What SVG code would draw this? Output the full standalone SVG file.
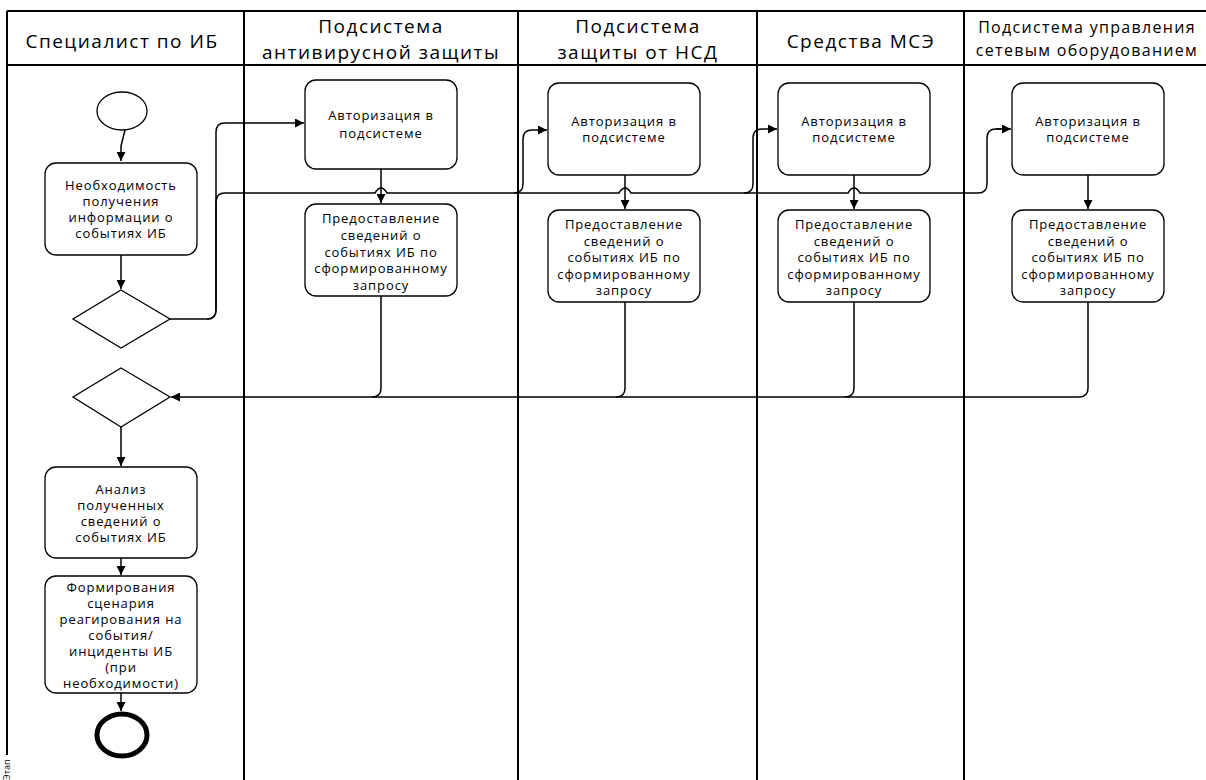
<svg xmlns="http://www.w3.org/2000/svg" width="1206" height="780" viewBox="0 0 1206 780">
  <defs>
    <marker id="arr" viewBox="0 0 10 10" refX="10" refY="5" markerWidth="10" markerHeight="9" markerUnits="userSpaceOnUse" orient="auto">
      <path d="M0,0 L10,5 L0,10 z" fill="#000"/>
    </marker>
  </defs>
  <style>
    .lane { stroke: #000; stroke-width: 2; fill: none; }
    .hdr { font-family: "Open Sans", "Liberation Sans", sans-serif; font-size: 19px; letter-spacing: 1.5px; fill: #000; text-anchor: middle; }
    .hdr-s { font-size: 16px; letter-spacing: 1.3px; }
    .box { fill: #fff; stroke: #000; stroke-width: 1.3; }
    .txt { font-family: "Open Sans", "Liberation Sans", sans-serif; font-size: 13px; letter-spacing: 0.9px; fill: #000; text-anchor: middle; }
    .con { fill: none; stroke: #000; stroke-width: 1.5; }
    .end { marker-end: url(#arr); }
  </style>
  <rect width="1206" height="780" fill="#fff"/>

  <!-- pool frame and swimlanes -->
  <g id="lanes">
    <line class="lane" x1="7" y1="11" x2="1206" y2="11"/>
    <line class="lane" x1="7" y1="65" x2="1206" y2="65"/>
    <line class="lane" x1="7" y1="11" x2="7" y2="755"/>
    <line class="lane" x1="244" y1="11" x2="244" y2="780"/>
    <line class="lane" x1="518" y1="11" x2="518" y2="780"/>
    <line class="lane" x1="757" y1="11" x2="757" y2="780"/>
    <line class="lane" x1="964" y1="11" x2="964" y2="780"/>
    <text class="hdr" x="122" y="48">Специалист по ИБ</text>
    <text class="hdr" x="381" y="33">Подсистема</text>
    <text class="hdr" x="381" y="59">антивирусной защиты</text>
    <text class="hdr" x="638" y="33">Подсистема</text>
    <text class="hdr" x="638" y="59">защиты от НСД</text>
    <text class="hdr" x="861" y="48">Средства МСЭ</text>
    <text class="hdr hdr-s" x="1087" y="33">Подсистема управления</text>
    <text class="hdr hdr-s" x="1087" y="56">сетевым оборудованием</text>
    <text font-family="Open Sans, sans-serif" font-size="9" transform="translate(10,780) rotate(-90)">Этап</text>
  </g>

  <!-- connectors -->
  <g id="connectors">
    <path class="con end" d="M125,130 L121,146 L121,161"/>
    <path class="con end" d="M121,255 V289"/>
    <path class="con end" d="M170,319 H207 Q216,319 216,310 V132 Q216,123 225,123 H304"/>
    <path class="con" d="M207,319 Q216,319 216,310 V202 Q216,193 225,193 H375 Q381,183 387,193 H619 Q625,183 631,193 H848 Q854,183 860,193 H978 Q987,193 987,184 V138 Q987,129 996,129 H1001"/>
    <path class="con end" d="M996,129 H1011"/>
    <path class="con end" d="M514,193 Q523,193 523,184 V139 Q523,130 532,130 H547"/>
    <path class="con end" d="M744,193 Q753,193 753,184 V138 Q753,129 762,129 H777"/>
    <path class="con end" d="M381,169 V203"/>
    <path class="con end" d="M625,175 V209"/>
    <path class="con end" d="M854,175 V209"/>
    <path class="con end" d="M1088,175 V209"/>
    <path class="con end" d="M1088,302 V388 Q1088,397 1079,397 H171"/>
    <path class="con" d="M854,302 V388 Q854,397 845,397"/>
    <path class="con" d="M625,302 V388 Q625,397 616,397"/>
    <path class="con" d="M381,296 V388 Q381,397 372,397"/>
    <path class="con end" d="M121,427 V466"/>
    <path class="con end" d="M121,558 V575"/>
    <path class="con end" d="M121,693 V711"/>
  </g>

  <!-- Специалист по ИБ -->
  <g id="start"><ellipse cx="122" cy="111" rx="25" ry="19" class="box"/></g>
  <g id="need-info">
    <rect class="box" x="45" y="163" width="152" height="92" rx="11"/>
    <text class="txt" x="121" y="190">Необходимость</text>
    <text class="txt" x="121" y="206">получения</text>
    <text class="txt" x="121" y="222">информации о</text>
    <text class="txt" x="121" y="238">событиях ИБ</text>
  </g>
  <g id="split"><polygon class="box" points="121,290 170,319 121,348 73,319"/></g>
  <g id="merge"><polygon class="box" points="121,368 170,397 121,427 73,397"/></g>
  <g id="analysis">
    <rect class="box" x="45" y="467" width="152" height="91" rx="11"/>
    <text class="txt" x="121" y="494">Анализ</text>
    <text class="txt" x="121" y="510">полученных</text>
    <text class="txt" x="121" y="526">сведений о</text>
    <text class="txt" x="121" y="542">событиях ИБ</text>
  </g>
  <g id="scenario">
    <rect class="box" x="45" y="576" width="152" height="117" rx="11"/>
    <text class="txt" x="121" y="592">Формирования</text>
    <text class="txt" x="121" y="608">сценария</text>
    <text class="txt" x="121" y="624">реагирования на</text>
    <text class="txt" x="121" y="640">события/</text>
    <text class="txt" x="121" y="656">инциденты ИБ</text>
    <text class="txt" x="121" y="672">(при</text>
    <text class="txt" x="121" y="688">необходимости)</text>
  </g>
  <g id="finish"><ellipse cx="122" cy="735" rx="25" ry="21" fill="#fff" stroke="#000" stroke-width="5"/></g>

  <!-- Подсистема антивирусной защиты -->
  <g id="av-auth">
    <rect class="box" x="305" y="80" width="152" height="89" rx="11"/>
    <text class="txt" x="381" y="120">Авторизация в</text>
    <text class="txt" x="381" y="138">подсистеме</text>
  </g>
  <g id="av-report">
    <rect class="box" x="305" y="204" width="152" height="92" rx="11"/>
    <text class="txt" x="381" y="223">Предоставление</text>
    <text class="txt" x="381" y="240">сведений о</text>
    <text class="txt" x="381" y="257">событиях ИБ по</text>
    <text class="txt" x="381" y="273">сформированному</text>
    <text class="txt" x="381" y="290">запросу</text>
  </g>

  <!-- Подсистема защиты от НСД -->
  <g id="nsd-auth">
    <rect class="box" x="548" y="83" width="152" height="92" rx="11"/>
    <text class="txt" x="624" y="126">Авторизация в</text>
    <text class="txt" x="624" y="142">подсистеме</text>
  </g>
  <g id="nsd-report">
    <rect class="box" x="548" y="210" width="152" height="92" rx="11"/>
    <text class="txt" x="624" y="229">Предоставление</text>
    <text class="txt" x="624" y="246">сведений о</text>
    <text class="txt" x="624" y="262">событиях ИБ по</text>
    <text class="txt" x="624" y="279">сформированному</text>
    <text class="txt" x="624" y="295">запросу</text>
  </g>

  <!-- Средства МСЭ -->
  <g id="fw-auth">
    <rect class="box" x="778" y="83" width="152" height="92" rx="11"/>
    <text class="txt" x="854" y="126">Авторизация в</text>
    <text class="txt" x="854" y="142">подсистеме</text>
  </g>
  <g id="fw-report">
    <rect class="box" x="778" y="210" width="152" height="92" rx="11"/>
    <text class="txt" x="854" y="229">Предоставление</text>
    <text class="txt" x="854" y="246">сведений о</text>
    <text class="txt" x="854" y="262">событиях ИБ по</text>
    <text class="txt" x="854" y="279">сформированному</text>
    <text class="txt" x="854" y="295">запросу</text>
  </g>

  <!-- Подсистема управления сетевым оборудованием -->
  <g id="net-auth">
    <rect class="box" x="1012" y="83" width="152" height="92" rx="11"/>
    <text class="txt" x="1088" y="126">Авторизация в</text>
    <text class="txt" x="1088" y="142">подсистеме</text>
  </g>
  <g id="net-report">
    <rect class="box" x="1012" y="210" width="152" height="92" rx="11"/>
    <text class="txt" x="1088" y="229">Предоставление</text>
    <text class="txt" x="1088" y="246">сведений о</text>
    <text class="txt" x="1088" y="262">событиях ИБ по</text>
    <text class="txt" x="1088" y="279">сформированному</text>
    <text class="txt" x="1088" y="295">запросу</text>
  </g>
</svg>
